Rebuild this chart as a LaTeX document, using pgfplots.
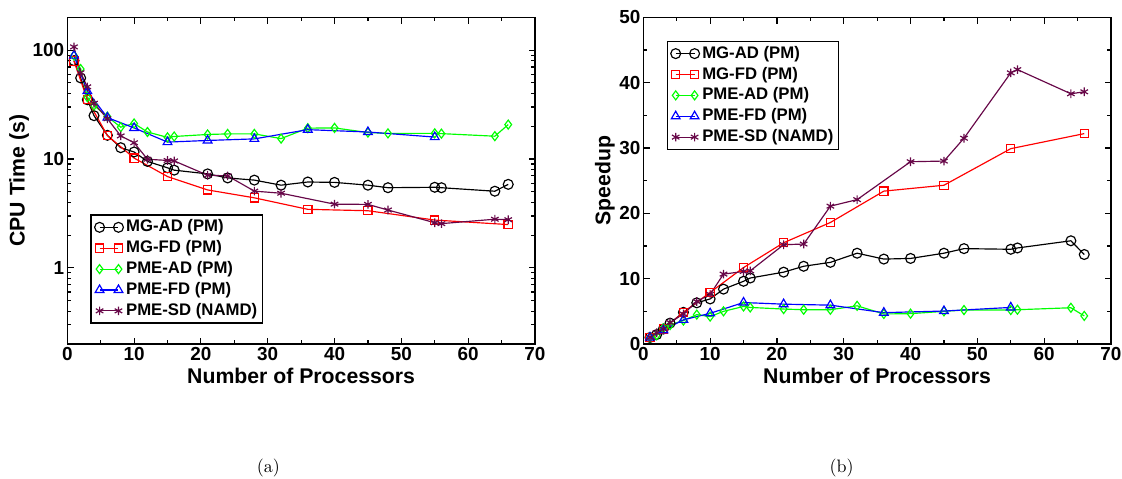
\documentclass[border=0pt]{standalone}
\usepackage{pgfplots}
\pgfplotsset{compat=1.18}
\usepackage{fontspec}
\newfontfamily\hv{Liberation Sans}
\definecolor{gmaroon}{RGB}{103,7,72}
\definecolor{ggreen}{RGB}{0,255,0}
\pgfplotsset{
  myaxis/.style={
    scale only axis, width=259.8pt, height=181.5pt,
    xmin=0, xmax=70, xtick={0,10,...,70}, minor xtick={5,15,...,65},
    tick align=inside, major tick length=3.5pt, minor tick length=2pt,
    axis line style={line width=0.85pt},
    tick style={line width=0.65pt, black},
    tick label style={font=\hv\bfseries\fontsize{10.5}{12}\selectfont},
    xticklabel style={inner sep=1.8pt},
    yticklabel style={inner sep=1.5pt},
    /pgf/number format/assume math mode=true,
    label style={font=\hv\bfseries\fontsize{11.8}{14}\selectfont},
    xlabel={Number of Processors},
    xlabel style={at={(axis description cs:0.5,-0.0967)}, anchor=center},
    legend cell align=left,
    legend style={draw=black, line width=0.85pt, anchor=north west,
      font=\hv\bfseries\fontsize{9.3}{11}\selectfont,
      inner xsep=1.9pt, inner ysep=1pt, column sep=0.5pt, row sep=0pt,
      nodes={inner sep=1pt, text height=7.3pt, text depth=2.3pt}},
    legend image code/.code={\draw plot coordinates {(0pt,0pt) (10.5pt,0pt)};},
    every axis plot/.append style={line width=0.65pt, mark options={solid}},
  },
  sMGAD/.style={black, mark=o, mark size=2.75pt},
  sMGFD/.style={red, mark=square, mark size=2.3pt},
  sPMEAD/.style={ggreen, mark=diamond, mark size=2.5pt},
  sPMEFD/.style={blue, mark=triangle, mark size=2.8pt},
  sPMESD/.style={gmaroon, mark=asterisk, mark size=2.4pt},
}
\begin{document}
\begin{tikzpicture}
\useasboundingbox (0,0) rectangle (623.33pt,265.56pt);
\begin{semilogyaxis}[myaxis, at={(37.39pt,74.44pt)}, anchor=south west,
  ymin=0.2, ymax=200, ytick={1,10,100}, yticklabels={1,10,100},
  minor ytick={0.2,0.3,0.4,0.5,0.6,0.7,0.8,0.9,2,3,4,5,6,7,8,9,20,30,40,50,60,70,80,90},
  ylabel={CPU Time (s)},
  ylabel style={at={(axis description cs:-0.1029,0.5)}, anchor=center},
  legend style={at={(axis description cs:0.0495,0.397)}}]
\addplot[sMGAD] coordinates {(1,80) (2,55.5) (3,35) (4,25) (6,16.5) (8,12.7) (10,11.6) (12,9.5) (15,8.3) (16,7.9) (21,7.3) (24,6.7) (28,6.4) (32,5.75) (36,6.15) (40,6.1) (45,5.75) (48,5.45) (55,5.5) (56,5.45) (64,5.06) (66,5.85)};
\addlegendentry{MG-AD (PM)}
\addplot[sMGFD] coordinates {(1,79.5) (3,35) (6,16.4) (10,10.2) (15,6.9) (21,5.2) (28,4.4) (36,3.45) (45,3.35) (55,2.75) (66,2.5)};
\addlegendentry{MG-FD (PM)}
\addplot[sPMEAD] coordinates {(1,89) (2,67) (3,37) (4,31) (6,24.5) (8,19.6) (10,21.2) (12,17.7) (15,15.8) (16,16.1) (21,16.8) (24,17.0) (28,17.0) (32,15.4) (36,19.2) (40,19.3) (45,17.5) (48,17.2) (55,17.2) (56,17.1) (64,16.2) (66,20.7)};
\addlegendentry{PME-AD (PM)}
\addplot[sPMEFD] coordinates {(1,89) (3,42) (6,24) (10,19.3) (15,14.3) (21,14.8) (28,15.3) (36,18.6) (45,17.7) (55,15.9)};
\addlegendentry{PME-FD (PM)}
\addplot[sPMESD] coordinates {(1,107) (2,62) (3,46) (4,32.5) (6,23.4) (8,16.3) (10,14.1) (12,9.95) (15,9.7) (16,9.6) (21,7.1) (24,7.0) (28,5.07) (32,4.85) (40,3.85) (45,3.83) (48,3.4) (55,2.6) (56,2.55) (64,2.8) (66,2.77)};
\addlegendentry{PME-SD (NAMD)}
\end{semilogyaxis}
\begin{axis}[myaxis, at={(357.4pt,74.44pt)}, anchor=south west,
  ymin=0, ymax=50, ytick={0,10,...,50}, minor ytick={5,15,...,45},
  ylabel={Speedup},
  ylabel style={at={(axis description cs:-0.082,0.5)}, anchor=center},
  legend style={at={(axis description cs:0.0497,0.9287)}}]
\addplot[sMGAD] coordinates {(1,1) (2,1.45) (3,2.3) (4,3.2) (6,4.85) (8,6.3) (10,6.9) (12,8.4) (15,9.6) (16,10.1) (21,11.0) (24,11.9) (28,12.5) (32,13.9) (36,13.0) (40,13.1) (45,13.9) (48,14.6) (55,14.5) (56,14.7) (64,15.8) (66,13.7)};
\addlegendentry{MG-AD (PM)}
\addplot[sMGFD] coordinates {(1,1) (3,2.3) (6,4.85) (10,7.9) (15,11.7) (21,15.5) (28,18.6) (36,23.4) (45,24.3) (55,29.9) (66,32.2)};
\addlegendentry{MG-FD (PM)}
\addplot[sPMEAD] coordinates {(1,1) (2,1.33) (3,2.4) (4,2.9) (6,3.6) (8,4.5) (10,4.2) (12,5.0) (15,5.75) (16,5.6) (21,5.35) (24,5.25) (28,5.25) (32,5.85) (36,4.6) (40,4.65) (45,5.0) (48,5.2) (55,5.2) (56,5.25) (64,5.55) (66,4.3)};
\addlegendentry{PME-AD (PM)}
\addplot[sPMEFD] coordinates {(1,1) (3,2.12) (6,3.7) (10,4.7) (15,6.35) (21,6.1) (28,5.95) (36,4.8) (45,5.05) (55,5.6)};
\addlegendentry{PME-FD (PM)}
\addplot[sPMESD] coordinates {(1,1) (2,1.73) (3,2.3) (4,3.3) (6,4.6) (8,6.5) (10,7.6) (12,10.7) (15,11.1) (16,11.2) (21,15.2) (24,15.3) (28,21.1) (32,22.1) (40,27.9) (45,28.0) (48,31.5) (55,41.5) (56,42.0) (64,38.3) (66,38.6)};
\addlegendentry{PME-SD (NAMD)}
\end{axis}
\node[font=\fontsize{10}{12}\selectfont] at (149.1pt,5.7pt) {(a)};
\node[font=\fontsize{10}{12}\selectfont] at (467.6pt,5.7pt) {(b)};
\end{tikzpicture}
\end{document}
